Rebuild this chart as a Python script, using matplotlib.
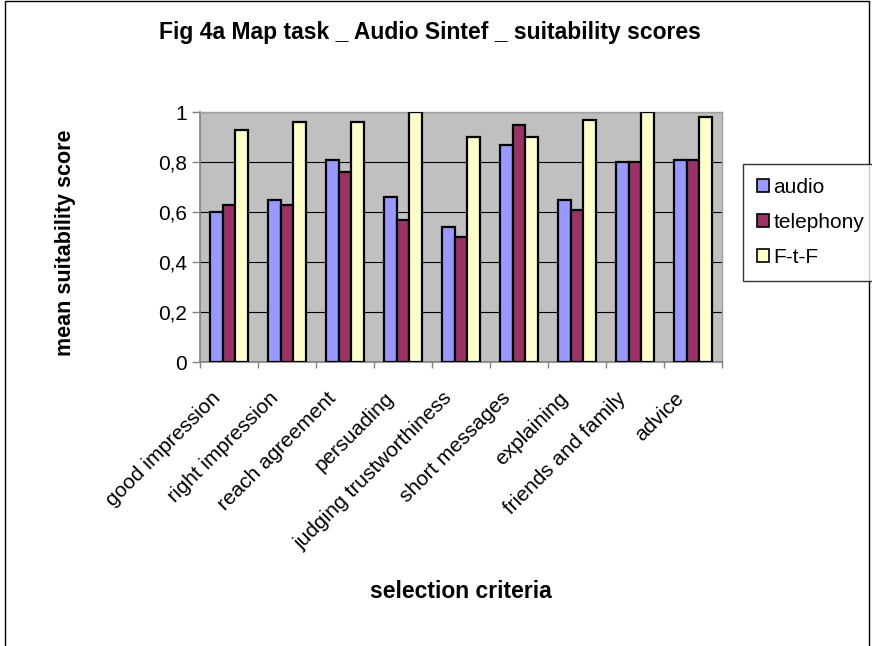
import numpy as np
import matplotlib.pyplot as plt
from matplotlib.patches import Rectangle
from matplotlib.ticker import FuncFormatter

# Data
criteria = ['good impression', 'right impression', 'reach agreement', 'persuading',
            'judging trustworthiness', 'short messages', 'explaining',
            'friends and family', 'advice']
audio = [0.60, 0.65, 0.81, 0.66, 0.54, 0.87, 0.65, 0.80, 0.81]
telephony = [0.63, 0.63, 0.76, 0.57, 0.50, 0.95, 0.61, 0.80, 0.81]
ftf = [0.93, 0.96, 0.96, 1.00, 0.90, 0.90, 0.97, 1.00, 0.98]
series_names = ['audio', 'telephony', 'F-t-F']
series_colors = ['#9999FF', '#993366', '#FFFFCC']

plt.rcParams['font.family'] = ['Liberation Sans', 'DejaVu Sans']

fig = plt.figure(figsize=(8.72, 6.46), dpi=100)
ax = fig.add_axes([200 / 872, 1 - 362 / 646, 522 / 872, 250 / 646])

# outer chart frame (bottom edge runs off the picture)
fig.patches.append(Rectangle((5 / 872, -0.1), 864 / 872, 1.099, transform=fig.transFigure,
                             fill=False, edgecolor='black', linewidth=1.0))

x = np.arange(len(criteria))
w = 0.22
for j, (vals, name, col) in enumerate(zip([audio, telephony, ftf], series_names, series_colors)):
    ax.bar(x + (j - 1) * w, vals, width=w, color=col, edgecolor='black',
           linewidth=1.6, label=name, zorder=3)

ax.set_facecolor('#C0C0C0')
ax.set_xlim(-0.5, len(criteria) - 0.5)
ax.set_ylim(0, 1)
ax.set_yticks(np.arange(0, 1.01, 0.2))
ax.yaxis.set_major_formatter(FuncFormatter(lambda v, p: ('%g' % round(v, 1)).replace('.', ',')))
ax.grid(axis='y', color='black', linewidth=0.8, zorder=1)

# labels sit a little left of the group centre, like Excel's rotated labels
ax.set_xticks(x - 0.2)
ax.set_xticklabels(criteria, rotation=45, ha='right', va='center', rotation_mode='anchor')
ax.set_xticks(np.arange(-0.5, len(criteria), 1), minor=True)
ax.tick_params(axis='x', which='major', length=0, pad=24, labelsize=15)
ax.tick_params(axis='x', which='minor', length=4.5, color='#808080', width=1)
ax.tick_params(axis='y', length=6, color='#808080', width=1, labelsize=15, pad=3.5)

for s in ['left', 'bottom']:
    ax.spines[s].set_color('#808080')
    ax.spines[s].set_linewidth(1.2)
for s in ['top', 'right']:
    ax.spines[s].set_color('#A0A0A0')
    ax.spines[s].set_linewidth(1.0)

fig.text(430 / 872, 1 - 32 / 646, 'Fig 4a Map task _ Audio Sintef _ suitability scores',
         ha='center', va='center', fontsize=16.5, fontweight='bold')
fig.text(461 / 872, 1 - 591 / 646, 'selection criteria', ha='center', va='center',
         fontsize=16.5, fontweight='bold')
fig.text(66 / 872, 1 - 243 / 646, 'mean suitability score', ha='center', va='center',
         rotation=90, fontsize=15.5, fontweight='bold')

leg = fig.legend(loc='upper left', bbox_to_anchor=(743 / 872, 1 - 164 / 646), fontsize=15,
                 frameon=True, fancybox=False, edgecolor='black', handlelength=0.6,
                 handleheight=0.6, handletextpad=0.2, labelspacing=0.78, borderpad=0.65,
                 borderaxespad=0)
leg.get_frame().set_linewidth(1.0)
for h in leg.legend_handles:
    h.set_linewidth(1.2)

fig.savefig('out.png', dpi=100)
